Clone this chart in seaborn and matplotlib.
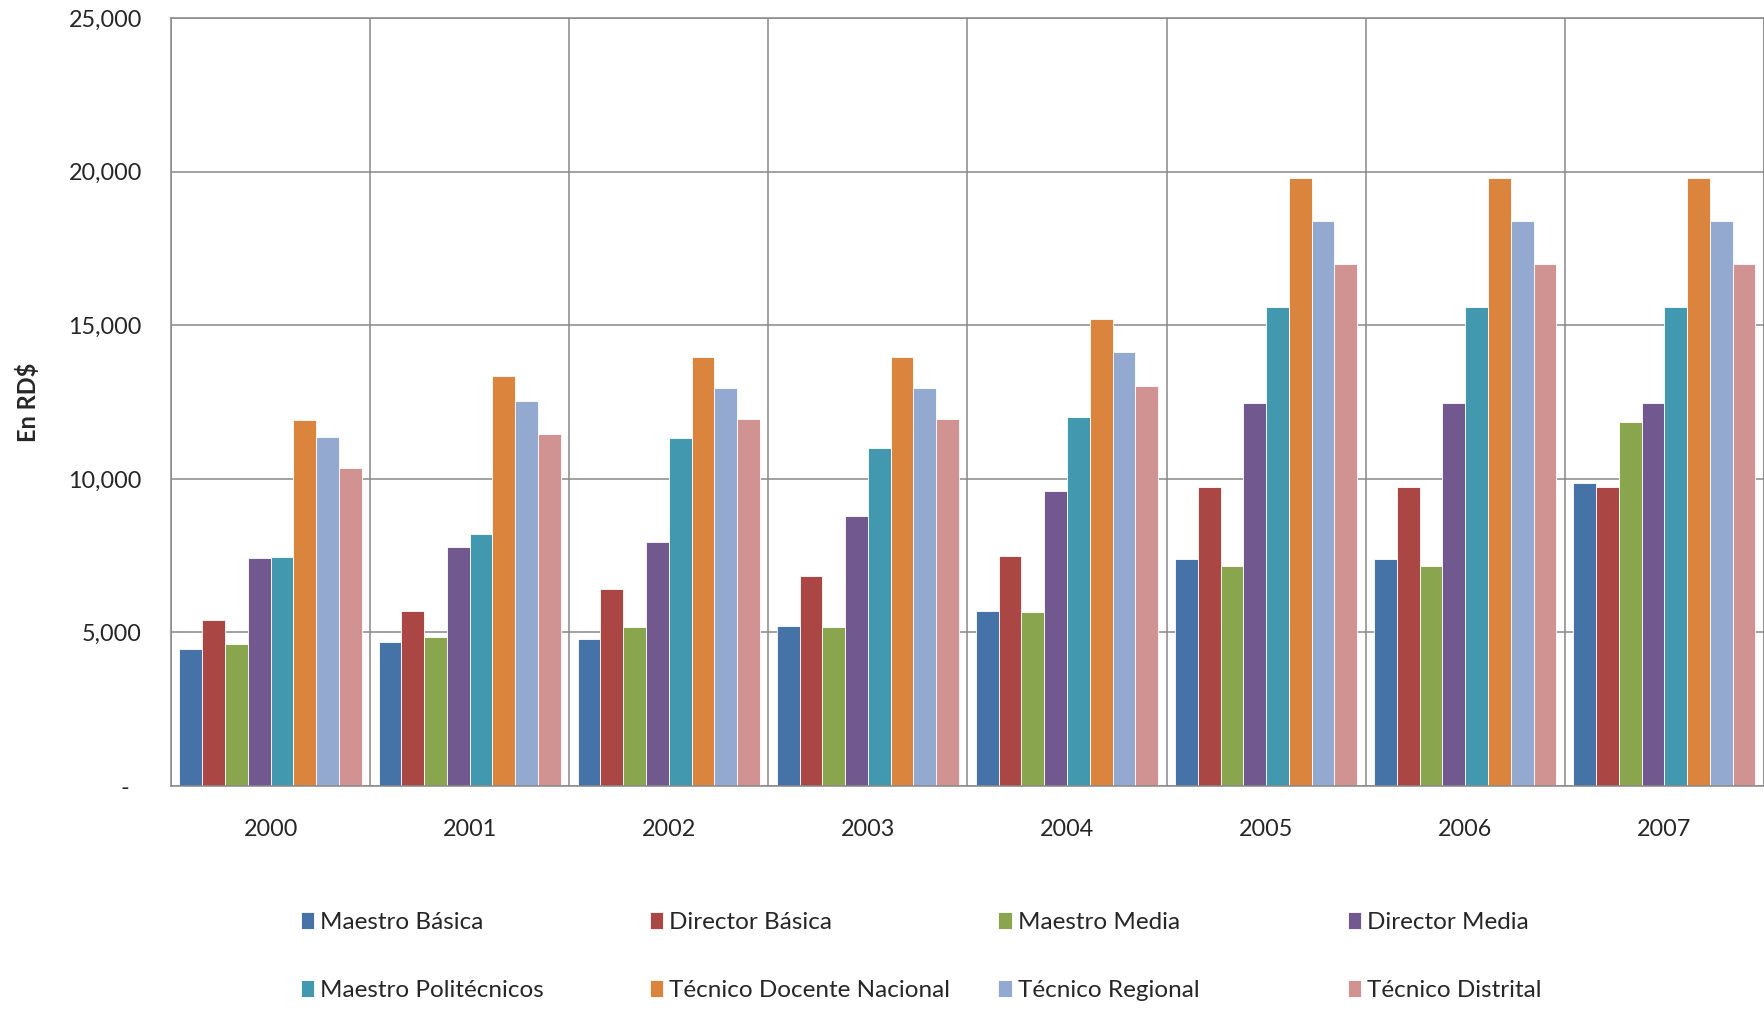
import matplotlib
matplotlib.use("Agg")
import matplotlib.pyplot as plt
from matplotlib.ticker import FuncFormatter, FixedLocator
import pandas as pd
import seaborn as sns

# salario mensual por categoria docente (RD$)
years = ["2000", "2001", "2002", "2003", "2004", "2005", "2006", "2007"]
series = ["Maestro Básica", "Director Básica", "Maestro Media", "Director Media",
          "Maestro Politécnicos", "Técnico Docente Nacional", "Técnico Regional",
          "Técnico Distrital"]

maestro_basica = [4450, 4690, 4800, 5200, 5700, 7400, 7400, 9870]
director_basica = [5400, 5690, 6430, 6840, 7480, 9720, 9720, 9720]
maestro_media = [4610, 4860, 5170, 5170, 5670, 7150, 7150, 11850]
director_media = [7420, 7780, 7930, 8780, 9610, 12480, 12480, 12480]
maestro_politecnicos = [7470, 8220, 11320, 10990, 12000, 15600, 15600, 15600]
tecnico_nacional = [11930, 13340, 13970, 13970, 15220, 19810, 19810, 19810]
tecnico_regional = [11370, 12530, 12960, 12960, 14140, 18380, 18380, 18380]
tecnico_distrital = [10350, 11470, 11940, 11940, 13040, 16980, 16980, 16980]

colors = ["#4572A7", "#AA4643", "#89A54E", "#71588F",
          "#4198AF", "#DB843D", "#93A9CF", "#D19392"]

values = [maestro_basica, director_basica, maestro_media, director_media,
          maestro_politecnicos, tecnico_nacional, tecnico_regional, tecnico_distrital]
rows = []
for name, vals in zip(series, values):
    for y, v in zip(years, vals):
        rows.append({"year": y, "serie": name, "value": v})
df = pd.DataFrame(rows)

sns.set_style("white")
plt.rcParams["font.family"] = ["Lato", "DejaVu Sans"]

fig = plt.figure(figsize=(17.65, 10.09), dpi=100)
ax = fig.add_axes([0.0969, 0.221, 0.9025, 0.761])

sns.barplot(data=df, x="year", y="value", hue="serie", order=years,
            hue_order=series, palette=colors, saturation=1, width=0.915,
            edgecolor="white", linewidth=0.6, ax=ax)

grid_col = "#888888"
ax.set_xlim(-0.5, 7.5)
ax.set_ylim(0, 25000)
ax.yaxis.set_major_locator(FixedLocator([0, 5000, 10000, 15000, 20000, 25000]))
ax.yaxis.set_major_formatter(FuncFormatter(lambda v, p: "-  " if v == 0 else f"{int(v):,}"))
ax.xaxis.set_minor_locator(FixedLocator([i - 0.5 for i in range(9)]))
ax.grid(axis="y", which="major", color=grid_col, linewidth=1.1)
ax.grid(axis="x", which="minor", color=grid_col, linewidth=1.1)
ax.grid(axis="x", which="major", visible=False)
ax.set_axisbelow(True)
for s in ax.spines.values():
    s.set_visible(True)
    s.set_color(grid_col)
    s.set_linewidth(1.1)

ax.tick_params(axis="both", which="both", length=0, labelsize=16.8)
ax.tick_params(axis="x", pad=24)
ax.tick_params(axis="y", pad=21)
ax.set_xlabel("")
ax.set_ylabel("En RD$", fontsize=17, fontweight="bold")
ax.yaxis.set_label_coords(-0.0895, 0.5)
ax.yaxis.label.set_verticalalignment("center")

handles, labels = ax.get_legend_handles_labels()
ax.get_legend().remove()
xs = [0.1703, 0.368, 0.5657, 0.7635]
for j in range(4):
    fig.legend([handles[j], handles[j + 4]], [labels[j], labels[j + 4]],
               loc="center left", bbox_to_anchor=(xs[j], 0.052), frameon=False,
               borderpad=0, borderaxespad=0, handlelength=0.55, handleheight=0.7,
               handletextpad=0.25, labelspacing=1.9, fontsize=17.5)

fig.savefig("out.png", dpi=100)
